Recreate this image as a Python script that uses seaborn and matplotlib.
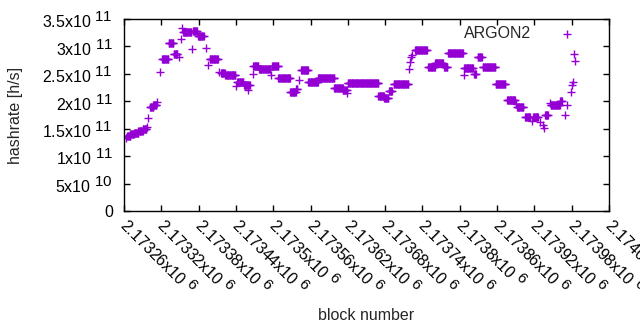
import numpy as np
import pandas as pd
import matplotlib
matplotlib.use("Agg")
import matplotlib.pyplot as plt
import matplotlib._mathtext as mathtext_internals
import seaborn as sns

# runs of consecutive blocks that share the same hashrate estimate
run_start = [2173263, 2173265, 2173270, 2173276, 2173283, 2173290, 2173297, 2173299,
             2173302, 2173307, 2173313, 2173318, 2173321, 2173332, 2173340, 2173348,
             2173352, 2173353, 2173355, 2173369, 2173371, 2173379, 2173392, 2173395,
             2173398, 2173413, 2173416, 2173423, 2173440, 2173442, 2173453, 2173460,
             2173468, 2173468, 2173477, 2173496, 2173498, 2173508, 2173527, 2173537,
             2173541, 2173545, 2173556, 2173572, 2173598, 2173612, 2173619, 2173620,
             2173669, 2173678, 2173686, 2173694, 2173718, 2173720, 2173722, 2173723,
             2173728, 2173749, 2173760, 2173775, 2173781, 2173807, 2173807, 2173823,
             2173829, 2173837, 2173858, 2173876, 2173890, 2173892, 2173905, 2173916,
             2173918, 2173929, 2173934, 2173936, 2173937, 2173945, 2173946, 2173961,
             2173969, 2173973, 2173979, 2173981, 2173982, 2173984, 2173985]
run_end = [2173263, 2173270, 2173276, 2173283, 2173290, 2173296, 2173297, 2173299,
           2173307, 2173312, 2173313, 2173318, 2173331, 2173339, 2173346, 2173348,
           2173352, 2173353, 2173368, 2173369, 2173377, 2173388, 2173392, 2173395,
           2173411, 2173413, 2173422, 2173439, 2173440, 2173452, 2173462, 2173460,
           2173468, 2173476, 2173495, 2173496, 2173508, 2173527, 2173536, 2173539,
           2173541, 2173556, 2173572, 2173598, 2173612, 2173618, 2173619, 2173669,
           2173678, 2173685, 2173691, 2173717, 2173718, 2173720, 2173722, 2173723,
           2173747, 2173760, 2173773, 2173780, 2173805, 2173807, 2173821, 2173826,
           2173835, 2173857, 2173873, 2173889, 2173890, 2173902, 2173913, 2173916,
           2173926, 2173929, 2173934, 2173936, 2173942, 2173945, 2173961, 2173964,
           2173969, 2173973, 2173979, 2173981, 2173982, 2173984, 2173985]
run_value = [1.33e11, 1.37e11, 1.40e11, 1.43e11, 1.46e11, 1.49e11, 1.53e11, 1.70e11,
             1.90e11, 1.94e11, 1.99e11, 2.53e11, 2.77e11, 3.06e11, 2.86e11, 2.81e11,
             3.14e11, 3.34e11, 3.26e11, 2.95e11, 3.28e11, 3.19e11, 2.97e11, 2.66e11,
             2.77e11, 2.53e11, 2.52e11, 2.48e11, 2.28e11, 2.35e11, 2.30e11, 2.21e11,
             2.50e11, 2.64e11, 2.59e11, 2.48e11, 2.64e11, 2.42e11, 2.17e11, 2.23e11,
             2.38e11, 2.57e11, 2.35e11, 2.42e11, 2.24e11, 2.21e11, 2.15e11, 2.33e11,
             2.10e11, 2.06e11, 2.19e11, 2.32e11, 2.59e11, 2.72e11, 2.80e11, 2.84e11,
             2.93e11, 2.63e11, 2.70e11, 2.63e11, 2.88e11, 2.48e11, 2.61e11, 2.50e11,
             2.81e11, 2.63e11, 2.32e11, 2.02e11, 1.95e11, 1.90e11, 1.71e11, 1.64e11,
             1.71e11, 1.62e11, 1.57e11, 1.51e11, 1.75e11, 1.97e11, 1.93e11, 2.00e11,
             1.75e11, 1.93e11, 2.17e11, 2.30e11, 2.35e11, 2.86e11, 2.73e11]

x_ticks = [2173260 + 60 * i for i in range(14)]
y_ticks = [0, 5e10, 1e11, 1.5e11, 2e11, 2.5e11, 3e11, 3.5e11]
y_tick_labels = ["0", r"5x10$^{\ 10}$", r"1x10$^{\ 11}$", r"1.5x10$^{\ 11}$",
                 r"2x10$^{\ 11}$", r"2.5x10$^{\ 11}$", r"3x10$^{\ 11}$", r"3.5x10$^{\ 11}$"]

blocks = np.concatenate([np.arange(s, e + 1) for s, e in zip(run_start, run_end)])
rates = np.concatenate([np.full(e - s + 1, v) for s, e, v in zip(run_start, run_end, run_value)])
df = pd.DataFrame({"block": blocks, "hashrate": rates})

sns.set_style("ticks", {"xtick.direction": "in", "ytick.direction": "in"})
plt.rcParams["font.family"] = ["Liberation Sans", "DejaVu Sans"]
plt.rcParams["mathtext.fontset"] = "custom"
plt.rcParams["mathtext.rm"] = "Liberation Sans"
plt.rcParams["mathtext.it"] = "Liberation Sans:italic"
plt.rcParams["font.size"] = 11.5
# gnuplot draws exponents almost full size
mathtext_internals.SHRINK_FACTOR = 0.95

fig = plt.figure(figsize=(6.4, 3.3), dpi=100)
ax = fig.add_axes([124 / 640, 1 - 211 / 330, 485 / 640, 192 / 330])

sns.scatterplot(data=df, x="block", y="hashrate", marker="+", s=30, linewidth=1,
                color="#9400d3", label="ARGON2", ax=ax)

ax.set_xlim(2173260, 2174040)
ax.set_ylim(0, 3.5e11)
ax.set_xticks(x_ticks)
ax.set_xticklabels([f"{t / 1e6:g}x10$^{{\\ 6}}$" for t in x_ticks], rotation=-45,
                   ha="left", va="center", rotation_mode="anchor")
ax.set_yticks(y_ticks)
ax.set_yticklabels(y_tick_labels)
ax.tick_params(axis="both", which="both", top=True, right=True, length=4,
               width=1, colors="black", labelsize=11.5)
ax.tick_params(axis="x", pad=7)
ax.tick_params(axis="y", pad=8)
for sp in ax.spines.values():
    sp.set_visible(True)
    sp.set_color("black")
    sp.set_linewidth(1)

ax.set_xlabel("block number", fontsize=11.5)
ax.set_ylabel("hashrate [h/s]", fontsize=11.5)
ax.xaxis.set_label_coords(0.5, -0.505)
ax.yaxis.set_label_coords(-0.208, 0.5)

ax.legend(loc="upper right", bbox_to_anchor=(0.946, 0.965), frameon=False,
          markerfirst=False, handletextpad=1.25, borderaxespad=0, borderpad=0,
          fontsize=11.5)

fig.savefig("out.png", dpi=100)
